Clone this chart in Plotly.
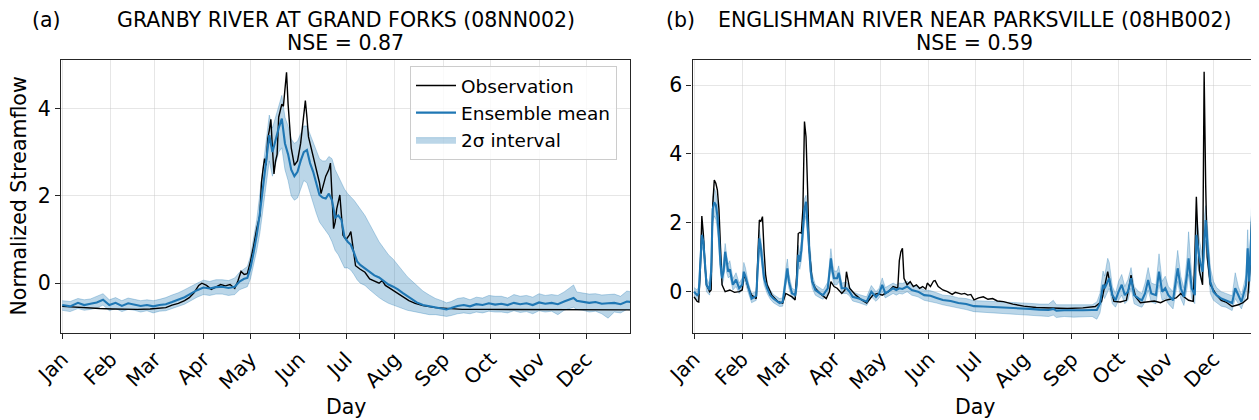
import plotly.graph_objects as go

# ---------------- data ----------------
month_days = [0, 31, 59, 90, 120, 151, 181, 212, 243, 273, 304, 334]
month_names = ["Jan", "Feb", "Mar", "Apr", "May", "Jun", "Jul", "Aug", "Sep", "Oct", "Nov", "Dec"]

title_a = "GRANBY RIVER AT GRAND FORKS (08NN002)"
nse_a = 0.87
title_b = "ENGLISHMAN RIVER NEAR PARKSVILLE (08HB002)"
nse_b = 0.59

# Panel (a) observation
obs_day_a = [0, 8, 16, 24, 32, 40, 48, 56, 62, 66, 70, 74, 78, 81, 84, 87, 89, 92, 95, 98,
             101, 104, 107, 110, 112, 114, 116, 118, 120, 122, 124, 126, 127, 128, 129, 130,
             131, 132, 133, 134, 135, 136, 137, 138, 139, 140, 141, 142, 143, 144, 145, 146,
             148, 150, 152, 153, 154, 155, 156, 157, 158, 160, 162, 164, 165, 166, 168, 170,
             171, 172, 173, 174, 175, 177, 179, 181, 183, 184, 185, 187, 190, 193, 196, 199,
             202, 204, 206, 209, 213, 217, 221, 225, 230, 238, 245, 255, 270, 290, 310, 330,
             350, 363]
obs_a = [-0.53, -0.55, -0.56, -0.58, -0.59, -0.6, -0.6, -0.59, -0.58, -0.56, -0.5, -0.46,
         -0.4, -0.33, -0.22, -0.05, 0.0, -0.05, -0.14, -0.08, -0.03, -0.06, -0.03, -0.12,
         0.05, 0.27, 0.2, 0.22, 0.5, 0.85, 1.25, 1.55, 2.3, 2.6, 2.85, 2.7, 3.3, 3.5, 3.75,
         3.1, 2.5, 2.8, 2.95, 3.8, 3.95, 4.1, 4.05, 4.4, 4.83, 4.1, 3.5, 3.1, 2.7, 2.8, 3.2,
         3.5, 3.9, 4.18, 3.8, 3.35, 3.2, 2.9, 2.6, 2.3, 2.05, 2.2, 2.45, 2.6, 2.75, 2.0,
         1.25, 1.4, 1.7, 2.02, 1.1, 1.0, 1.1, 1.18, 0.9, 0.4, 0.32, 0.25, 0.1, 0.05, 0.0,
         0.06, -0.05, -0.12, -0.22, -0.32, -0.4, -0.46, -0.51, -0.56, -0.58, -0.6, -0.6,
         -0.6, -0.61, -0.61, -0.61, -0.61]

# Panel (a) ensemble mean and 2-sigma bounds
ens_day_a = [0, 5, 10, 14, 18, 22, 26, 30, 34, 38, 42, 46, 50, 54, 58, 62, 66, 70, 74, 78,
             82, 86, 90, 94, 98, 102, 106, 110, 113, 116, 118, 120, 122, 124, 126, 128, 130,
             132, 134, 136, 138, 140, 142, 144, 146, 148, 150, 152, 154, 156, 158, 160, 162,
             164, 166, 168, 170, 172, 174, 176, 178, 180, 182, 184, 186, 188, 190, 193, 196,
             199, 202, 205, 208, 211, 214, 217, 220, 223, 226, 230, 234, 238, 242, 245, 248,
             252, 256, 260, 264, 268, 272, 276, 280, 284, 288, 292, 296, 300, 304, 308, 312,
             316, 320, 324, 326, 328, 332, 336, 340, 344, 348, 352, 356, 360, 363]
mean_a = [-0.5, -0.53, -0.45, -0.5, -0.47, -0.44, -0.38, -0.5, -0.45, -0.52, -0.46, -0.49,
          -0.52, -0.5, -0.53, -0.5, -0.48, -0.43, -0.38, -0.32, -0.24, -0.16, -0.1, -0.12,
          -0.09, -0.08, -0.11, -0.08, 0.04, 0.1, 0.12, 0.35, 0.7, 1.1, 1.6, 2.2, 2.7, 3.39,
          3.0, 3.3, 3.55, 3.77, 3.2, 2.95, 2.6, 2.45, 2.55, 2.8, 3.0, 3.05, 2.75, 2.55, 2.25,
          2.02, 1.96, 1.94, 2.05, 1.9, 1.5, 1.55, 1.45, 1.05, 0.95, 0.88, 0.7, 0.5, 0.42,
          0.34, 0.25, 0.18, 0.13, 0.04, -0.03, -0.08, -0.14, -0.22, -0.3, -0.38, -0.44, -0.5,
          -0.53, -0.55, -0.58, -0.6, -0.57, -0.52, -0.5, -0.53, -0.48, -0.5, -0.46, -0.49,
          -0.47, -0.5, -0.45, -0.48, -0.46, -0.5, -0.44, -0.47, -0.45, -0.48, -0.42, -0.36,
          -0.34, -0.4, -0.42, -0.45, -0.43, -0.47, -0.46, -0.45, -0.48, -0.42, -0.43]
lo_a = [-0.62, -0.65, -0.58, -0.62, -0.6, -0.57, -0.5, -0.63, -0.58, -0.65, -0.6, -0.62,
        -0.66, -0.63, -0.68, -0.64, -0.63, -0.58, -0.53, -0.48, -0.4, -0.32, -0.26, -0.28,
        -0.25, -0.25, -0.28, -0.26, -0.15, -0.1, -0.08, 0.1, 0.4, 0.75, 1.15, 1.7, 2.2, 2.8,
        2.45, 2.7, 3.0, 3.1, 2.6, 2.35, 2.0, 1.9, 1.95, 2.15, 2.35, 2.3, 2.05, 1.85, 1.6,
        1.4, 1.3, 1.2, 1.1, 0.95, 0.75, 0.65, 0.5, 0.35, 0.35, 0.3, 0.2, 0.08, 0.0, -0.05,
        -0.15, -0.25, -0.33, -0.4, -0.46, -0.5, -0.54, -0.58, -0.62, -0.64, -0.66, -0.7,
        -0.72, -0.72, -0.74, -0.76, -0.74, -0.7, -0.68, -0.7, -0.66, -0.68, -0.64, -0.66,
        -0.66, -0.68, -0.63, -0.67, -0.65, -0.7, -0.63, -0.66, -0.64, -0.72, -0.62, -0.58,
        -0.55, -0.6, -0.62, -0.66, -0.64, -0.7, -0.8, -0.66, -0.68, -0.6, -0.62]
hi_a = [-0.4, -0.42, -0.35, -0.38, -0.36, -0.3, -0.24, -0.38, -0.33, -0.4, -0.34, -0.37,
        -0.4, -0.38, -0.4, -0.37, -0.33, -0.27, -0.22, -0.15, -0.07, 0.0, 0.07, 0.04, 0.08,
        0.08, 0.06, 0.12, 0.25, 0.32, 0.38, 0.62, 1.0, 1.45, 2.05, 2.65, 3.2, 3.85, 3.55,
        3.8, 4.05, 4.3, 3.8, 3.6, 3.3, 3.2, 3.25, 3.45, 3.6, 3.6, 3.4, 3.2, 3.0, 2.85, 2.8,
        2.8, 2.9, 2.85, 2.6, 2.45, 2.3, 2.15, 2.05, 1.98, 1.9, 1.8, 1.7, 1.55, 1.35, 1.15,
        0.95, 0.8, 0.65, 0.55, 0.42, 0.3, 0.15, 0.05, -0.05, -0.18, -0.27, -0.35, -0.4,
        -0.45, -0.42, -0.35, -0.33, -0.38, -0.32, -0.34, -0.28, -0.3, -0.3, -0.34, -0.26,
        -0.3, -0.28, -0.32, -0.24, -0.28, -0.26, -0.28, -0.2, -0.1, -0.04, -0.2, -0.22,
        -0.25, -0.24, -0.27, -0.26, -0.25, -0.3, -0.18, -0.2]

# Panel (b) observation
obs_day_b = [0, 2, 3, 4, 5, 6, 7, 8, 10, 11, 12, 13, 14, 15, 16, 17, 18, 20, 23, 26, 29, 31,
             32, 33, 35, 37, 40, 41, 42, 43, 44, 45, 46, 47, 50, 54, 57, 59, 61, 63, 65, 66,
             67, 68, 69, 70, 71, 72, 73, 74, 76, 78, 81, 85, 87, 88, 90, 92, 95, 97, 98, 99,
             100, 104, 108, 111, 115, 118, 121, 125, 128, 131, 132, 133, 134, 135, 137, 139,
             141, 143, 145, 147, 149, 150, 152, 154, 155, 157, 160, 163, 166, 168, 170, 172,
             174, 176, 178, 180, 183, 186, 189, 192, 195, 199, 205, 212, 220, 230, 240, 250,
             258, 262, 264, 266, 268, 270, 274, 278, 280, 281, 282, 284, 287, 292, 296, 300,
             303, 306, 310, 313, 315, 318, 321, 322, 323, 324, 325, 327, 328, 329, 330, 332,
             336, 339, 342, 346, 350, 353, 356, 358, 359, 360, 361, 362]
obs_b = [-0.15, -0.28, -0.3, 0.6, 2.2, 1.65, 0.8, 0.2, 0.0, 0.05, 2.5, 3.24, 3.15, 2.95, 2.4,
         1.0, 0.2, 0.0, 0.05, -0.02, 0.0, 0.05, 0.44, 0.4, 0.1, -0.1, -0.2, 1.0, 2.08, 2.05,
         2.18, 1.2, 0.5, 0.2, -0.1, -0.29, -0.33, -0.05, -0.1, -0.15, -0.24, 0.5, 1.69, 1.72,
         1.7, 2.4, 4.94, 4.5, 3.0, 1.26, 0.3, 0.1, -0.05, -0.2, 0.0, 0.29, 0.15, 0.1, -0.05,
         0.05, 0.58, 0.35, 0.1, -0.1, -0.25, -0.33, -0.1, -0.05, -0.1, 0.0, 0.15, 0.1, 0.9,
         1.16, 1.26, 0.39, 0.2, 0.29, 0.15, 0.2, 0.1, 0.15, 0.08, 0.25, 0.15, 0.31, 0.32,
         0.15, 0.05, 0.0, -0.08, -0.02, -0.05, -0.07, -0.05, -0.1, -0.08, -0.24, -0.18,
         -0.15, -0.22, -0.2, -0.27, -0.29, -0.36, -0.42, -0.46, -0.48, -0.49, -0.47, -0.43,
         -0.29, 0.1, 0.58, 0.1, -0.28, -0.3, -0.25, 0.2, 0.48, 0.2, -0.15, -0.32, -0.3,
         -0.27, -0.32, -0.25, -0.22, -0.18, -0.05, -0.15, -0.25, -0.28, 1.0, 2.76, 1.55, 0.6,
         0.2, 6.39, 3.1, 1.0, 0.2, -0.1, -0.25, -0.3, -0.43, -0.38, -0.32, -0.2, 1.0, 2.86,
         2.7, 1.5, 0.58]

# Panel (b) ensemble mean and 2-sigma bounds
ens_day_b = [0, 2, 3, 4, 5, 6, 7, 8, 10, 11, 12, 13, 14, 15, 16, 17, 18, 19, 20, 21, 22, 23,
             25, 27, 29, 31, 32, 33, 35, 37, 40, 41, 42, 43, 44, 45, 47, 49, 51, 55, 57, 59,
             60, 61, 63, 65, 66, 67, 68, 69, 70, 71, 72, 73, 74, 75, 76, 78, 81, 83, 86, 87,
             88, 89, 90, 92, 93, 95, 98, 100, 102, 106, 111, 114, 117, 119, 121, 123, 126,
             128, 130, 132, 134, 137, 140, 144, 148, 152, 156, 160, 165, 170, 175, 180, 186,
             192, 198, 204, 210, 216, 222, 228, 231, 233, 238, 244, 250, 256, 259, 261, 263,
             264, 266, 267, 269, 271, 273, 275, 277, 279, 281, 283, 286, 288, 290, 292, 294,
             297, 299, 301, 303, 305, 308, 310, 311, 313, 315, 317, 318, 320, 322, 323, 325,
             327, 328, 329, 330, 332, 334, 336, 339, 342, 346, 348, 350, 352, 355, 356, 357,
             359, 360, 361, 362]
mean_b = [0.0, -0.1, -0.05, 0.8, 1.65, 1.45, 0.7, 0.2, 0.05, 0.6, 2.4, 2.6, 2.52, 2.2, 1.6,
          0.8, 0.39, 0.6, 1.16, 0.8, 0.58, 0.65, 0.2, 0.35, 0.1, 0.2, 0.58, 0.45, 0.1, -0.2,
          -0.12, 0.6, 1.55, 1.26, 0.9, 0.39, 0.1, -0.1, -0.2, -0.33, -0.3, 0.4, 0.68, 0.29,
          -0.05, -0.1, 0.2, 1.07, 0.87, 1.2, 1.94, 2.4, 2.61, 1.9, 1.26, 0.6, 0.29, 0.05,
          -0.05, -0.1, 0.1, 0.5, 0.97, 0.6, 0.39, 0.39, 0.55, 0.1, 0.1, 0.0, -0.15, -0.2,
          -0.29, 0.0, -0.15, -0.05, 0.2, -0.05, 0.05, 0.1, 0.05, 0.1, 0.08, 0.15, 0.05, 0.0,
          -0.1, -0.12, -0.18, -0.24, -0.27, -0.33, -0.36, -0.42, -0.43, -0.44, -0.46, -0.48,
          -0.48, -0.5, -0.52, -0.53, -0.5, -0.55, -0.54, -0.55, -0.54, -0.53, -0.53, -0.35,
          0.2, 0.1, 0.3, 0.39, -0.1, -0.25, 0.0, 0.2, -0.1, 0.0, 0.39, -0.1, -0.2, -0.25,
          -0.05, 0.34, -0.05, -0.1, 0.58, 0.0, 0.1, -0.1, -0.25, 0.3, 0.68, 0.1, -0.15, 0.5,
          0.97, 0.1, -0.1, 1.65, 0.97, 0.58, 1.5, 2.08, 1.45, 0.29, 0.0, -0.1, -0.2, -0.25,
          -0.33, 0.1, -0.1, -0.3, 0.2, 1.26, 0.3, 2.42, 2.0, 0.97, 1.0]
lo_b = [-0.15, -0.25, -0.2, 0.5, 1.3, 1.15, 0.45, 0.0, -0.1, 0.3, 2.0, 2.2, 2.1, 1.8, 1.25,
        0.55, 0.2, 0.35, 0.85, 0.55, 0.4, 0.45, 0.05, 0.15, -0.05, 0.05, 0.35, 0.25, -0.05,
        -0.32, -0.25, 0.35, 1.2, 1.0, 0.65, 0.2, -0.05, -0.22, -0.32, -0.43, -0.42, 0.2,
        0.45, 0.1, -0.2, -0.22, 0.0, 0.8, 0.65, 0.9, 1.6, 2.0, 2.2, 1.5, 0.95, 0.4, 0.1,
        -0.1, -0.18, -0.22, -0.05, 0.3, 0.7, 0.4, 0.2, 0.2, 0.3, -0.05, -0.05, -0.12, -0.27,
        -0.32, -0.4, -0.15, -0.28, -0.18, 0.0, -0.18, -0.1, -0.05, -0.1, -0.05, -0.07, 0.0,
        -0.1, -0.15, -0.25, -0.28, -0.33, -0.38, -0.42, -0.48, -0.52, -0.58, -0.6, -0.62,
        -0.64, -0.66, -0.67, -0.68, -0.7, -0.72, -0.68, -0.75, -0.72, -0.74, -0.73, -0.72,
        -0.8, -0.62, -0.1, -0.2, 0.0, 0.1, -0.35, -0.45, -0.25, -0.1, -0.35, -0.25, 0.1,
        -0.35, -0.42, -0.45, -0.3, 0.05, -0.3, -0.35, 0.2, -0.25, -0.2, -0.35, -0.5, 0.0,
        0.3, -0.2, -0.4, 0.1, 0.5, -0.2, -0.35, 1.0, 0.5, 0.2, 0.9, 1.5, 0.9, -0.05, -0.25,
        -0.32, -0.42, -0.45, -0.55, -0.2, -0.35, -0.5, -0.1, 0.7, -0.05, 1.8, 1.4, 0.5, 0.5]
hi_b = [0.12, 0.05, 0.15, 1.1, 1.9, 1.7, 0.95, 0.4, 0.2, 0.9, 2.75, 3.0, 2.9, 2.6, 1.95,
        1.1, 0.6, 0.9, 1.4, 1.05, 0.8, 0.9, 0.38, 0.55, 0.25, 0.4, 0.85, 0.7, 0.25, -0.05,
        0.0, 0.85, 1.8, 1.5, 1.15, 0.6, 0.25, 0.05, -0.08, -0.2, -0.18, 0.65, 0.95, 0.5,
        0.1, 0.05, 0.45, 1.35, 1.1, 1.5, 2.25, 2.7, 2.8, 2.2, 1.55, 0.85, 0.5, 0.2, 0.1,
        0.05, 0.28, 0.75, 1.25, 0.85, 0.6, 0.6, 0.75, 0.25, 0.28, 0.15, 0.0, -0.08, -0.15,
        0.18, 0.0, 0.1, 0.4, 0.12, 0.2, 0.25, 0.2, 0.25, 0.24, 0.3, 0.2, 0.15, 0.05, 0.03,
        -0.03, -0.1, -0.12, -0.18, -0.2, -0.26, -0.27, -0.28, -0.3, -0.32, -0.32, -0.34,
        -0.36, -0.36, -0.25, -0.38, -0.38, -0.38, -0.38, -0.38, -0.3, -0.05, 0.6, 0.45, 0.97,
        0.85, 0.15, -0.05, 0.3, 0.5, 0.15, 0.35, 0.7, 0.15, 0.0, -0.05, 0.25, 0.7, 0.25, 0.2,
        1.1, 0.3, 0.45, 0.15, 0.0, 0.8, 1.2, 0.45, 0.1, 1.0, 1.74, 0.5, 0.2, 2.3, 1.5, 1.0,
        2.1, 2.5, 2.0, 0.7, 0.3, 0.12, 0.0, -0.05, -0.12, 0.55, 0.15, -0.1, 0.5, 1.8, 0.7,
        3.1, 2.8, 1.6, 1.7]

# ---------------- figure ----------------
FONT = "DejaVu Sans"
FS = 20.5
BLUE = "#1f77b4"
BAND = "rgba(31,119,180,0.3)"
OFF = 8                      # default page margin of the HTML body
W, H = 1259 - OFF, 420 - OFF
# target plot-area edges in window pixels
PL_A, PR_A, PL_B, PR_B, PT, PB = 61, 630, 692.5, 1257, 60, 333
ML, MT = PL_A - OFF, PT - OFF
MR = W - (PR_B - OFF)
MB = H - (PB - OFF)
PW, PH = W - ML - MR, H - MT - MB


def px_x(px):
    return (px - OFF - ML) / PW


def px_y(py):
    return (H - MB - (py - OFF)) / PH


fig = go.Figure()

panels = [
    ("x", "y", obs_day_a, obs_a, ens_day_a, mean_a, lo_a, hi_a, True),
    ("x2", "y2", obs_day_b, obs_b, ens_day_b, mean_b, lo_b, hi_b, False),
]
for xa, ya, od, ov, ed, em, el, eh, leg in panels:
    fig.add_trace(go.Scatter(x=ed, y=el, xaxis=xa, yaxis=ya, mode="lines",
                             line=dict(color=BAND, width=1), showlegend=False,
                             hoverinfo="skip"))
    fig.add_trace(go.Scatter(x=ed, y=eh, xaxis=xa, yaxis=ya, mode="lines",
                             line=dict(color=BAND, width=1), fill="tonexty",
                             fillcolor=BAND, name="2σ interval", showlegend=leg,
                             legendrank=3))
    fig.add_trace(go.Scatter(x=od, y=ov, xaxis=xa, yaxis=ya, mode="lines",
                             line=dict(color="black", width=1.4), name="Observation",
                             showlegend=leg, legendrank=1))
    fig.add_trace(go.Scatter(x=ed, y=em, xaxis=xa, yaxis=ya, mode="lines",
                             line=dict(color=BLUE, width=2.1), name="Ensemble mean",
                             showlegend=leg, legendrank=2))

axis_common = dict(showline=True, linecolor="#262626", linewidth=1.3, mirror=True,
                   ticks="outside", ticklen=5, tickwidth=1.1, tickcolor="#262626",
                   showgrid=True, gridcolor="rgba(200,200,200,0.45)", gridwidth=1,
                   zeroline=False, automargin=False,
                   tickfont=dict(family=FONT, size=FS, color="black"))

dom_a = [0.0, px_x(PR_A)]
dom_b = [px_x(PL_B), 1.0]
fig.update_layout(
    width=W, height=H,
    margin=dict(l=ML, r=MR, t=MT, b=MB, autoexpand=False),
    paper_bgcolor="white", plot_bgcolor="white",
    font=dict(family=FONT, size=FS, color="black"),
    xaxis=dict(domain=dom_a, range=[-0.8, 362], tickvals=month_days, ticktext=month_names,
               tickangle=-45, anchor="y", **axis_common),
    yaxis=dict(domain=[0, 1], range=[-1.14, 5.11], tickvals=[0, 2, 4], anchor="x",
               **axis_common),
    xaxis2=dict(domain=dom_b, range=[-1, 362], tickvals=month_days, ticktext=month_names,
                tickangle=-45, anchor="y2", **axis_common),
    yaxis2=dict(domain=[0, 1], range=[-1.2, 6.73], tickvals=[0, 2, 4, 6], anchor="x2",
                **axis_common),
    legend=dict(x=px_x(617), y=px_y(66), xanchor="right", yanchor="top",
                traceorder="normal", itemwidth=40,
                bgcolor="rgba(255,255,255,0.8)", bordercolor="#cccccc", borderwidth=1,
                font=dict(family=FONT, size=18.5), tracegroupgap=0),
    showlegend=True,
)


def txt(text, px, py, angle=0, size=FS):
    return dict(text=text, x=px_x(px), y=px_y(py), xref="paper", yref="paper",
                xanchor="center", yanchor="middle", showarrow=False, textangle=angle,
                font=dict(family=FONT, size=size, color="black"))


cx_a = (PL_A + PR_A) / 2
cx_b = (PL_B + PR_B) / 2
annotations = [
    txt(title_a, cx_a, 20),
    txt(f"NSE = {nse_a:.2f}", cx_a, 43),
    txt(title_b, cx_b, 20),
    txt(f"NSE = {nse_b:.2f}", cx_b, 43),
    txt("(a)", 46, 20),
    txt("(b)", 680, 20),
    txt("Day", cx_a, 407),
    txt("Day", cx_b, 407),
    txt("Normalized Streamflow", 18, (PT + PB) / 2, angle=-90),
]
fig.update_layout(annotations=annotations)

fig.write_html("out.html")
